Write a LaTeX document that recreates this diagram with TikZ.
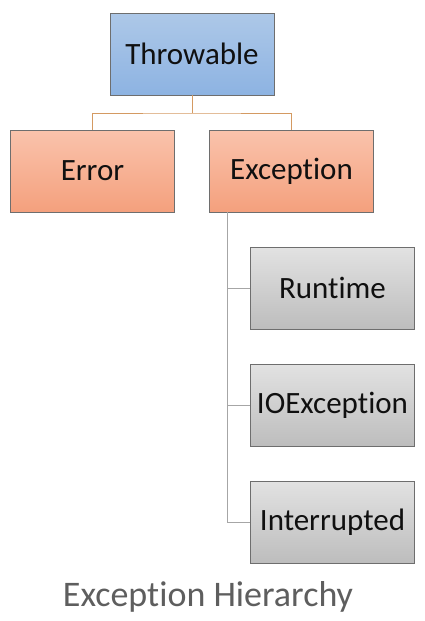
\documentclass[tikz,border=0pt]{standalone}
\usepackage{fontspec}
\setmainfont[RawFeature={-liga;-clig;-calt}]{Carlito}
\usetikzlibrary{positioning}

\definecolor{topblue}{HTML}{ADC8E8}
\definecolor{botblue}{HTML}{8DB3E2}
\definecolor{topsalmon}{HTML}{FAC3AC}
\definecolor{botsalmon}{HTML}{F4A07D}
\definecolor{topgray}{HTML}{E2E2E2}
\definecolor{botgray}{HTML}{BDBDBD}
\definecolor{edgegray}{HTML}{6E6E6E}
\definecolor{wireorange}{HTML}{D49A62}
\definecolor{wiregray}{HTML}{A6A6A6}
\definecolor{captiongray}{HTML}{5E5E5E}
\definecolor{inkdark}{HTML}{101010}

\begin{document}
\begin{tikzpicture}[x=1pt, y=-1pt,
            box/.style={rectangle, draw=edgegray, line width=0.8pt, minimum width=164pt, minimum height=82pt, inner sep=0pt, text=inkdark, font=\fontsize{31}{36}\selectfont},
            rootbox/.style={box, top color=topblue, bottom color=botblue},
            kindbox/.style={box, top color=topsalmon, bottom color=botsalmon},
            leafbox/.style={box, top color=topgray, bottom color=botgray},
            upwire/.style={wireorange, line width=1pt},
            sidewire/.style={wiregray, line width=1pt}
        ]
            \useasboundingbox (0,0) rectangle (425,621);

            % --- top levels ---
            \node[rootbox] (throwable) at (192,54) {Throwable};
            \node[kindbox] (error) at (92.5,171) {Error};
            \node[kindbox] (exception) at (291.5,171) {Exception};

            % --- exception kinds ---
            \node[leafbox] (runtime) at (332.5,288) {Runtime};
            \node[leafbox] (ioexc) at (332.5,405) {IOException};
            \node[leafbox] (interrupted) at (332.5,522) {Interrupted};

            % tree wires
            \coordinate (fork) at (192,113);
            \draw[upwire] (throwable.south) -- (fork);
            \draw[upwire] (error.north) |- (fork) -| (exception.north);

            \coordinate (trunk) at (227,212);
            \draw[sidewire] (trunk) |- (interrupted.west);
            \draw[sidewire] (trunk |- runtime.west) -- (runtime.west);
            \draw[sidewire] (trunk |- ioexc.west) -- (ioexc.west);

            \node[captiongray, font=\fontsize{36}{40}\selectfont] (caption) at (208,597) {Exception Hierarchy};
        \end{tikzpicture}
\end{document}
